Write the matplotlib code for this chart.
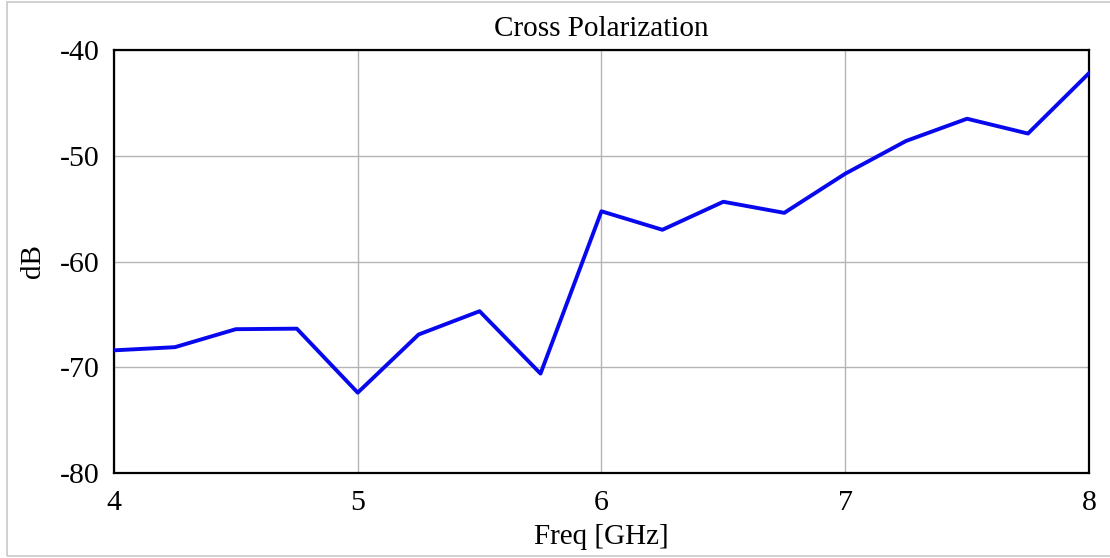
import matplotlib.pyplot as plt
from matplotlib.patches import Rectangle

# Cross polarization vs frequency
freq_ghz = [4.0, 4.25, 4.5, 4.75, 5.0, 5.25, 5.5, 5.75, 6.0,
            6.25, 6.5, 6.75, 7.0, 7.25, 7.5, 7.75, 8.0]
xpol_db = [-68.4, -68.1, -66.4, -66.35, -72.4, -66.9, -64.7, -70.6, -55.25,
           -57.0, -54.35, -55.4, -51.7, -48.6, -46.5, -47.9, -42.2]

x_ticks = [4, 5, 6, 7, 8]
y_ticks = [-80, -70, -60, -50, -40]

plt.rcParams['font.family'] = ['Liberation Serif', 'DejaVu Serif']

fig = plt.figure(figsize=(11.1, 5.58), dpi=100)
ax = fig.add_axes([0.1027, 0.1523, 0.8783, 0.7581])

# faint page frame (top, left, bottom edges)
fig.patches.append(Rectangle((7 / 1110, 2 / 558), 1.2, 554 / 558,
                             transform=fig.transFigure, fill=False,
                             edgecolor='#c8c8c8', linewidth=1.2))

ax.plot(freq_ghz, xpol_db, color='#0808ee', linewidth=2.8, zorder=3)

ax.set_xlim(4, 8)
ax.set_ylim(-80, -40)
ax.set_xticks(x_ticks)
ax.set_yticks(y_ticks)
ax.set_xticklabels([str(t) for t in x_ticks])
ax.set_yticklabels([str(t) for t in y_ticks])
ax.tick_params(length=0, labelsize=21.5)
ax.tick_params(axis='x', pad=12)
ax.tick_params(axis='y', pad=10)
ax.grid(True, color='#b4b4b4', linewidth=1.0)

for s in ax.spines.values():
    s.set_linewidth(1.6)
    s.set_color('black')

ax.set_title('Cross Polarization', fontsize=21, pad=10)
ax.set_xlabel('Freq [GHz]', fontsize=21, labelpad=6)
ax.set_ylabel('dB', fontsize=21, labelpad=10)

fig.savefig('out.png', dpi=100)
